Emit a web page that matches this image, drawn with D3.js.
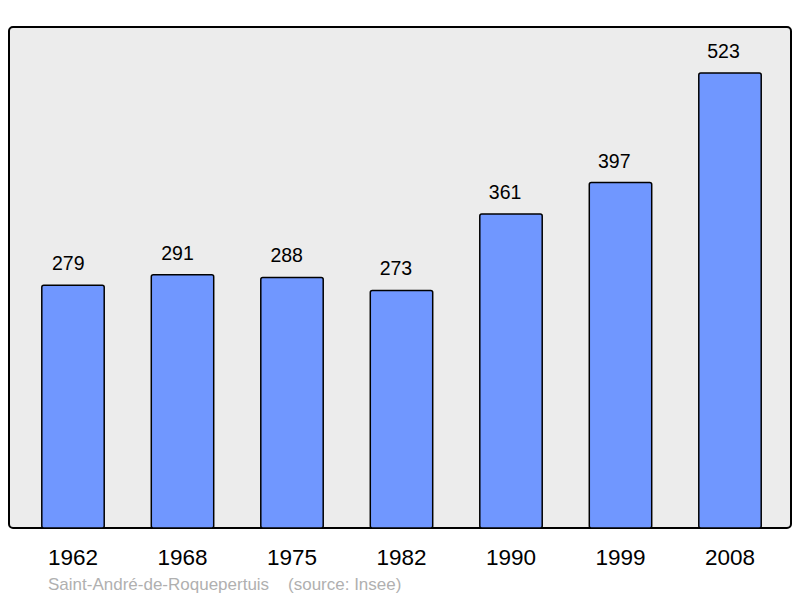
<!DOCTYPE html>
<html>
<head>
<meta charset="utf-8">
<script src="https://cdn.jsdelivr.net/npm/d3@7"></script>
<style>
  body { margin: 0; background: #fff; }
  svg text { font-family: "Liberation Sans", Arial, sans-serif; }
</style>
</head>
<body>
<div id="chart"></div>
<script>
// population by census year
const years = ["1962", "1968", "1975", "1982", "1990", "1999", "2008"];
const population = [279, 291, 288, 273, 361, 397, 523];

const width = 800, height = 598;

const svg = d3.select("#chart")
    .append("svg")
    .attr("width", width)
    .attr("height", height);

// background panel
svg.append("rect")
    .attr("x", 9)
    .attr("y", 27)
    .attr("width", 782)
    .attr("height", 501)
    .attr("rx", 4)
    .attr("fill", "#ececec")
    .attr("stroke", "#000")
    .attr("stroke-width", 2);

const x = d3.scaleBand()
    .domain(years)
    .range([18.25, 784.75])
    .paddingInner(0.43)
    .paddingOuter(0.215);

const y = d3.scaleLinear()
    .domain([0, 523])
    .range([528, 73]);

const data = years.map((yr, i) => ({year: yr, value: population[i], i: i}));

svg.selectAll("rect.bar")
    .data(data)
    .enter().append("rect")
    .attr("class", "bar")
    .attr("x", d => x(d.year))
    .attr("y", d => y(d.value))
    .attr("width", x.bandwidth())
    .attr("height", d => y(0) - y(d.value))
    .attr("rx", 2)
    .attr("fill", "#7097ff")
    .attr("stroke", "#000")
    .attr("stroke-width", 1.5);

// value labels (sit a little left of the bar centre in the original)
svg.selectAll("text.val")
    .data(data)
    .enter().append("text")
    .attr("class", "val")
    .attr("x", d => x(d.year) + x.bandwidth() / 2 - 4.7 - 0.3 * d.i)
    .attr("y", d => y(d.value) - 15)
    .attr("text-anchor", "middle")
    .style("font-size", "19.5px")
    .style("fill", "#000")
    .text(d => d.value);

// year labels
svg.selectAll("text.yr")
    .data(data)
    .enter().append("text")
    .attr("class", "yr")
    .attr("x", d => x(d.year) + x.bandwidth() / 2)
    .attr("y", 565)
    .attr("text-anchor", "middle")
    .style("font-size", "22.5px")
    .style("fill", "#000")
    .text(d => d.year);

svg.append("text")
    .attr("x", 48)
    .attr("y", 590)
    .style("font-size", "17px")
    .style("fill", "#b0b0b0")
    .attr("xml:space", "preserve")
    .text("Saint-André-de-Roquepertuis    (source: Insee)");
</script>
</body>
</html>
